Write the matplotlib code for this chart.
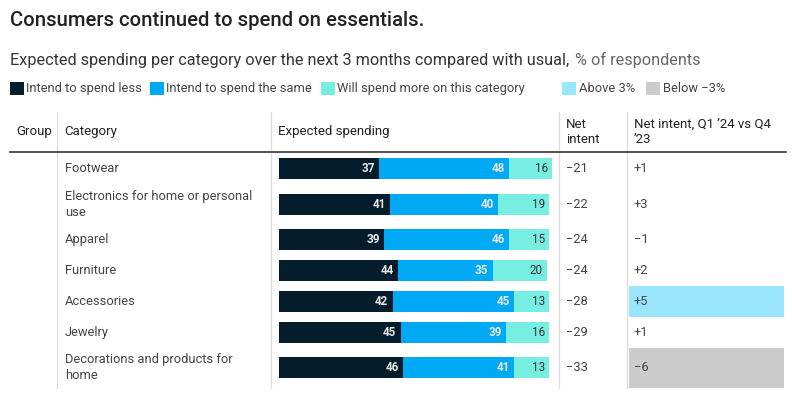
import matplotlib
matplotlib.use("Agg")
import matplotlib.pyplot as plt
from matplotlib.patches import Rectangle

plt.rcParams["font.family"] = ["Roboto", "DejaVu Sans"]

# data
categories = [
    "Footwear",
    "Electronics for home or personal\nuse",
    "Apparel",
    "Furniture",
    "Accessories",
    "Jewelry",
    "Decorations and products for\nhome",
]
spend_less = [37, 41, 39, 44, 42, 45, 46]
spend_same = [48, 40, 46, 35, 45, 39, 41]
spend_more = [16, 19, 15, 20, 13, 16, 13]
net_intent = [-21, -22, -24, -24, -28, -29, -33]
net_change = [1, 3, -1, 2, 5, 1, -6]

series_labels = ["Intend to spend less", "Intend to spend the same",
                 "Will spend more on this category"]
series_colors = ["#051c2c", "#00a9f4", "#76eee2"]
above_color = "#99e6fd"
below_color = "#cccccc"

W, H = 792, 394
# row centres in pixel space (two-line labels take taller rows)
row_y = [168.5, 204.3, 239.5, 270.3, 301.5, 332.5, 367.5]


def fmt(v):
    if v > 0:
        return "+%d" % v
    return "\u2212%d" % abs(v)


fig = plt.figure(figsize=(W / 100, H / 100), dpi=100)

# overlay in pixel units for the table furniture
ax = fig.add_axes([0, 0, 1, 1])
ax.set_xlim(0, W)
ax.set_ylim(H, 0)
ax.axis("off")

ax.text(10, 20, "Consumers continued to spend on essentials.", fontsize=14.6,
        fontweight="medium", color="#222222", va="center")
sub = ax.text(10, 60, "Expected spending per category over the next 3 months compared with usual,",
              fontsize=11.7, color="#333333", va="center")
fig.canvas.draw()
bb = sub.get_window_extent(fig.canvas.get_renderer())
ax.text(bb.x1 + 6, 60, "% of respondents", fontsize=11.7, color="#666666", va="center")

# legend
leg_x = [10, 150, 321]
for x0, lab, col in zip(leg_x, series_labels, series_colors):
    ax.add_patch(Rectangle((x0, 82), 14, 13, color=col, lw=0))
    ax.text(x0 + 16, 88.7, lab, fontsize=9.3, color="#444444", va="center")
ax.add_patch(Rectangle((562, 82), 14, 13, color=above_color, lw=0))
ax.text(579, 88.7, "Above 3%", fontsize=9.3, color="#444444", va="center")
ax.add_patch(Rectangle((646, 82), 14, 13, color=below_color, lw=0))
ax.text(663, 88.7, "Below \u22123%", fontsize=9.3, color="#444444", va="center")

# table header
hdr = dict(fontsize=9.5, color="#222222", va="center")
ax.text(16, 131.7, "Group", **hdr)
ax.text(64, 131.7, "Category", **hdr)
ax.text(278, 131.7, "Expected spending", **hdr)
ax.text(566, 132, "Net\nintent", linespacing=1.25, **hdr)
ax.text(634, 132, "Net intent, Q1 \u201924 vs Q4\n\u201923", linespacing=1.25, **hdr)

for xv in [57, 271, 559, 627]:
    ax.plot([xv, xv], [112, 388], color="#dcdcdc", lw=0.9)
ax.plot([10, 786], [152, 152], color="#333333", lw=1.2)

# highlighted change cells
for y, v in zip(row_y, net_change):
    if v > 3 or v < -3:
        col = above_color if v > 3 else below_color
        top = y - 15.5 if y < 350 else y - 19.5
        h = 31 if y < 350 else 40
        ax.add_patch(Rectangle((629, top), 155, h, color=col, lw=0, zorder=0))

body = dict(fontsize=9.3, color="#444444", va="center")
for y, cat, ni, nc in zip(row_y, categories, net_intent, net_change):
    ax.text(65, y, cat, linespacing=1.35, **body)
    ax.text(566, y, fmt(ni), **body)
    ax.text(634, y, fmt(nc), **body)

# stacked bars
bx = fig.add_axes([279 / W, 0, 273 / W, 1])
bx.set_xlim(0, 101)
bx.set_ylim(H, 0)
bx.axis("off")
left = [0] * len(categories)
for vals, col, i in zip([spend_less, spend_same, spend_more], series_colors, range(3)):
    bx.barh(row_y, vals, left=left, height=21, color=col, lw=0)
    for y, l, v in zip(row_y, left, vals):
        tc = "#e8e8e8" if i < 2 else "#333333"
        fw = "bold" if i < 2 else "normal"
        bx.annotate(str(v), (l + v, y), xytext=(-3, 0), textcoords="offset points",
                    ha="right", va="center", fontsize=8.4, color=tc, fontweight=fw,
                    annotation_clip=False)
    left = [a + b for a, b in zip(left, vals)]

fig.savefig("out.png", dpi=100)
